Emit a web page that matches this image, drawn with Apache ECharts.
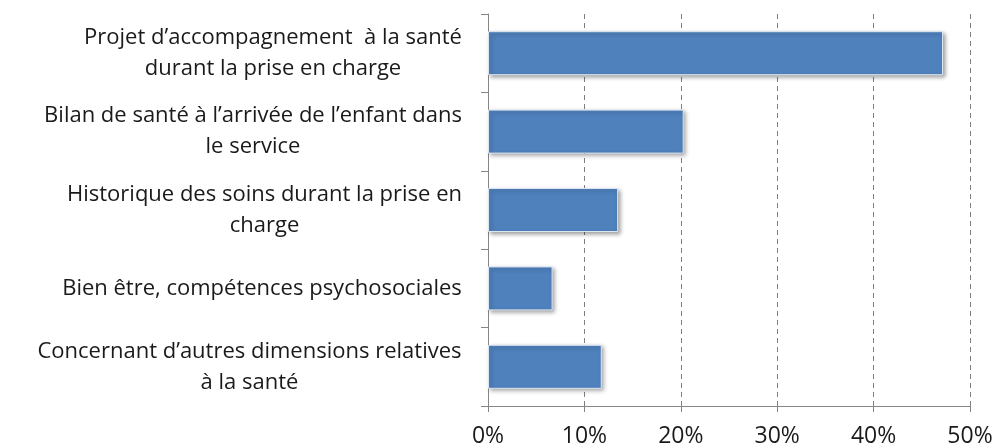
<!DOCTYPE html>
<html>
<head>
<meta charset="utf-8">
<script src="https://cdn.jsdelivr.net/npm/echarts@6/dist/echarts.min.js"></script>
<style>
  html, body { margin: 0; padding: 0; background: #fff; }
  #chart { width: 996px; height: 448px; }
</style>
</head>
<body>
<div id="chart"></div>
<script>
// catégories (de haut en bas)
var categories = [
  'Projet d’accompagnement  à la santé\ndurant la prise en charge',
  'Bilan de santé à l’arrivée de l’enfant dans\nle service',
  'Historique des soins durant la prise en\ncharge',
  'Bien être, compétences psychosociales',
  'Concernant d’autres dimensions relatives\nà la santé'
];
// pourcentages
var values = [47.2, 20.3, 13.5, 6.7, 11.8];
var tickLabels = ['0%', '10%', '20%', '30%', '40%', '50%'];

var labelFont = 'Open Sans';
var labelSize = 22;

// largeur de la ligne la plus longue de chaque libellé, pour centrer les lignes entre elles
var ctx = document.createElement('canvas').getContext('2d');
ctx.font = labelSize + 'px "' + labelFont + '"';
var rich = {};
categories.forEach(function (c, i) {
  var w = 0;
  c.split('\n').forEach(function (l) { w = Math.max(w, ctx.measureText(l).width); });
  rich['c' + i] = {
    width: Math.ceil(w) + 2,
    align: 'center',
    fontFamily: labelFont,
    fontSize: labelSize,
    lineHeight: 31,
    color: '#1a1a1a'
  };
});

var chart = echarts.init(document.getElementById('chart'));
chart.setOption({
  animation: false,
  backgroundColor: '#fff',
  grid: { left: 488, right: 26, top: 14, bottom: 40 },
  xAxis: {
    type: 'value',
    min: 0,
    max: 50,
    interval: 10,
    axisLine: { show: true, lineStyle: { color: '#868686', width: 1 } },
    axisTick: { show: true, length: 6, lineStyle: { color: '#868686' } },
    axisLabel: {
      margin: 19,
      fontFamily: labelFont,
      fontSize: 23,
      color: '#1a1a1a',
      formatter: function (v) { return tickLabels[Math.round(v / 10)]; }
    },
    splitLine: { show: true, lineStyle: { color: '#7f7f7f', type: [5, 4], width: 1 } }
  },
  yAxis: {
    type: 'category',
    inverse: true,
    data: categories,
    axisLine: { show: true, lineStyle: { color: '#868686', width: 1 } },
    axisTick: { show: true, length: 7, lineStyle: { color: '#868686' } },
    axisLabel: {
      margin: 25,
      align: 'right',
      formatter: function (value, index) {
        return value.split('\n').map(function (l) {
          return '{c' + index + '|' + l + '}';
        }).join('\n');
      },
      rich: rich
    }
  },
  series: [{
    type: 'bar',
    data: values,
    barWidth: 44,
    itemStyle: {
      color: '#4f81bd',
      borderColor: '#dce6f2',
      borderWidth: 1,
      shadowColor: 'rgba(0,0,0,0.35)',
      shadowBlur: 4,
      shadowOffsetX: 2,
      shadowOffsetY: 2
    }
  }]
});
</script>
</body>
</html>
